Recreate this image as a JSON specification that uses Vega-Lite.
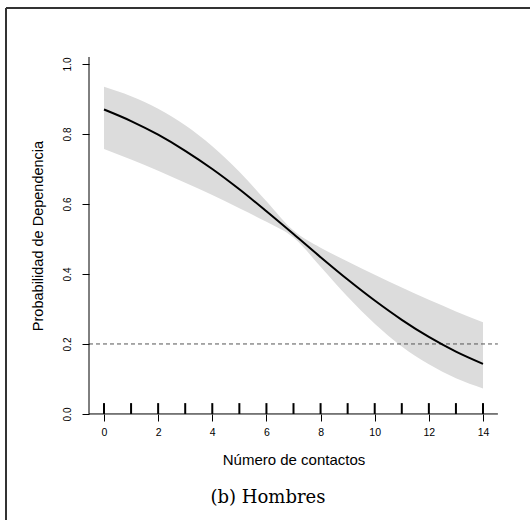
{
  "$schema": "https://vega.github.io/schema/vega-lite/v6.json",
  "width": 524,
  "height": 512,
  "autosize": {"type": "none"},
  "padding": {"left": 6, "top": 8, "right": 0, "bottom": 0},
  "background": "white",
  "config": {"view": {"stroke": null}},
  "title": {
    "text": "(b) Hombres",
    "orient": "bottom",
    "anchor": "middle",
    "offset": -23,
    "font": "DejaVu Serif",
    "fontSize": 18,
    "fontWeight": "normal",
    "color": "black",
    "baseline": "middle"
  },
  "datasets": {
    "curve": [
      {"x": 0, "p": 0.870, "lo": 0.757, "hi": 0.935},
      {"x": 1, "p": 0.837, "lo": 0.727, "hi": 0.908},
      {"x": 2, "p": 0.798, "lo": 0.695, "hi": 0.872},
      {"x": 3, "p": 0.752, "lo": 0.661, "hi": 0.825},
      {"x": 4, "p": 0.700, "lo": 0.626, "hi": 0.765},
      {"x": 5, "p": 0.642, "lo": 0.588, "hi": 0.692},
      {"x": 6, "p": 0.579, "lo": 0.549, "hi": 0.608},
      {"x": 7, "p": 0.514, "lo": 0.504, "hi": 0.524},
      {"x": 8, "p": 0.448, "lo": 0.421, "hi": 0.475},
      {"x": 9, "p": 0.384, "lo": 0.335, "hi": 0.436},
      {"x": 10, "p": 0.324, "lo": 0.258, "hi": 0.398},
      {"x": 11, "p": 0.269, "lo": 0.193, "hi": 0.361},
      {"x": 12, "p": 0.220, "lo": 0.142, "hi": 0.326},
      {"x": 13, "p": 0.178, "lo": 0.102, "hi": 0.293},
      {"x": 14, "p": 0.143, "lo": 0.073, "hi": 0.262}
    ],
    "lines": [
      {"name": "dash", "x1": -0.554, "x2": 14.55, "y1": 0.2, "y2": 0.2},
      {"name": "xaxis", "x1": -0.554, "x2": 14.55, "y1": 0, "y2": 0},
      {"name": "yaxis", "x1": -0.554, "x2": -0.554, "y1": 0, "y2": 1.02},
      {"name": "left", "x1": -3.62, "x2": -3.62, "y1": -0.303, "y2": 1.16},
      {"name": "top", "x1": -3.62, "x2": 15.736, "y1": 1.16, "y2": 1.16}
    ]
  },
  "encoding": {
    "x": {
      "type": "quantitative",
      "scale": {"domain": [-3.62, 15.736], "nice": false, "zero": false},
      "axis": {
        "orient": "bottom", "offset": -106, "domain": false, "grid": false,
        "values": [0, 2, 4, 6, 8, 10, 12, 14],
        "tickSize": 7, "tickColor": "black", "tickWidth": 1,
        "labelFont": "Liberation Sans", "labelFontSize": 10.5, "labelColor": "black",
        "labelPadding": 6, "labelFlush": false, "labelOverlap": false,
        "title": "Número de contactos", "titleFont": "Liberation Sans", "titleFontSize": 15,
        "titleFontWeight": "normal", "titleColor": "black",
        "titleX": 287.5, "titleY": 45, "titleBaseline": "middle", "titleAlign": "center"
      }
    },
    "y": {
      "type": "quantitative",
      "scale": {"domain": [-0.303, 1.16], "nice": false, "zero": false},
      "axis": {
        "orient": "left", "offset": -83, "domain": false, "grid": false,
        "values": [0, 0.2, 0.4, 0.6, 0.8, 1], "format": ".1f",
        "tickSize": 7, "tickColor": "black", "tickWidth": 1,
        "labelAngle": 270, "labelAlign": "center", "labelBaseline": "bottom",
        "labelPadding": 10, "labelFont": "Liberation Sans", "labelFontSize": 10,
        "labelColor": "black", "labelFlush": false, "labelOverlap": false,
        "title": "Probabilidad de Dependencia", "titleFont": "Liberation Sans",
        "titleFontSize": 14.5, "titleFontWeight": "normal", "titleColor": "black",
        "titleX": -51, "titleY": 227.5, "titleAngle": 270,
        "titleAlign": "center", "titleBaseline": "middle"
      }
    }
  },
  "layer": [
    {
      "data": {"name": "curve"},
      "mark": {"type": "area", "color": "#dcdcdc", "opacity": 1, "interpolate": "monotone"},
      "encoding": {
        "x": {"field": "x"},
        "y": {"field": "lo"},
        "y2": {"field": "hi"}
      }
    },
    {
      "data": {"name": "lines"},
      "transform": [{"filter": "datum.name == 'dash'"}],
      "mark": {"type": "rule", "color": "#555555", "strokeDash": [4, 3], "strokeWidth": 1},
      "encoding": {
        "x": {"field": "x1"},
        "x2": {"field": "x2"},
        "y": {"field": "y1"},
        "y2": {"field": "y2"}
      }
    },
    {
      "data": {"name": "curve"},
      "mark": {"type": "line", "color": "black", "strokeWidth": 2, "interpolate": "monotone"},
      "encoding": {
        "x": {"field": "x"},
        "y": {"field": "p"}
      }
    },
    {
      "data": {"name": "curve"},
      "mark": {"type": "rule", "color": "black", "strokeWidth": 2},
      "encoding": {
        "x": {"field": "x"},
        "y": {"datum": 0},
        "y2": {"datum": 0.031}
      }
    },
    {
      "data": {"name": "lines"},
      "transform": [{"filter": "datum.name == 'xaxis' || datum.name == 'yaxis'"}],
      "mark": {"type": "rule", "color": "black", "strokeWidth": 1},
      "encoding": {
        "x": {"field": "x1"},
        "x2": {"field": "x2"},
        "y": {"field": "y1"},
        "y2": {"field": "y2"}
      }
    },
    {
      "data": {"name": "lines"},
      "transform": [{"filter": "datum.name == 'left' || datum.name == 'top'"}],
      "mark": {"type": "rule", "color": "#333333", "strokeWidth": 2},
      "encoding": {
        "x": {"field": "x1"},
        "x2": {"field": "x2"},
        "y": {"field": "y1"},
        "y2": {"field": "y2"}
      }
    }
  ]
}
